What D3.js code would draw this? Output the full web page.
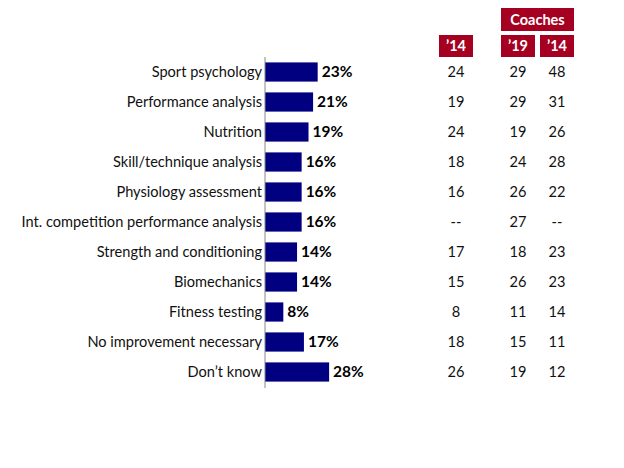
<!DOCTYPE html>
<html><head><meta charset="utf-8">
<script src="https://cdn.jsdelivr.net/npm/d3@7"></script>
<style>body{margin:0;background:#fff}svg{display:block}text{font-family:Lato,"Open Sans",sans-serif}</style>
</head><body>
<svg id="c" width="624" height="468"></svg>
<script>
const categories = ["Sport psychology","Performance analysis","Nutrition","Skill/technique analysis","Physiology assessment","Int. competition performance analysis","Strength and conditioning","Biomechanics","Fitness testing","No improvement necessary","Don\u2019t know"];
const values = [23,21,19,16,16,16,14,14,8,17,28];
const col14 = ["24","19","24","18","16","--","17","15","8","18","26"];
const coaches19 = ["29","29","19","24","26","27","18","26","11","15","19"];
const coaches14 = ["48","31","26","28","22","--","23","23","14","11","12"];
const headers = ["\u201914","\u201919","\u201914"];
const groupHeader = "Coaches";

const svg = d3.select("#c");
const x = d3.scaleLinear().domain([0,100]).range([265,265+229]);
const y = d3.scaleBand().domain(categories).range([57,387]).paddingInner(0.36).paddingOuter(0.18);
const red = "#A50021";

svg.selectAll("rect.bar").data(values).join("rect").attr("class","bar")
  .attr("x",x(0)).attr("y",(d,i)=>y(categories[i])).attr("width",d=>x(d)-x(0))
  .attr("height",y.bandwidth()).attr("fill","#000080");

svg.append("line").attr("x1",x(0)).attr("x2",x(0)).attr("y1",57).attr("y2",388).attr("stroke","#888").attr("stroke-width",1);

const yc = c => y(c)+y.bandwidth()/2;
svg.selectAll("text.cat").data(categories).join("text").attr("class","cat")
  .attr("x",x(0)-3).attr("y",d=>yc(d)).attr("dy","0.35em").attr("text-anchor","end")
  .attr("font-size",14.6).attr("fill","#111").text(d=>d);

svg.selectAll("text.val").data(values).join("text").attr("class","val")
  .attr("x",d=>x(d)+4).attr("y",(d,i)=>yc(categories[i])).attr("dy","0.35em")
  .attr("font-size",15.5).attr("font-weight","bold").attr("fill","#000").text(d=>d+"%");

const cols = [{cx:456,data:col14},{cx:518,data:coaches19},{cx:557,data:coaches14}];
cols.forEach((c,j)=>{
  svg.append("rect").attr("x",c.cx-17).attr("y",35).attr("width",34).attr("height",22).attr("fill",red);
  svg.append("text").attr("x",c.cx).attr("y",46).attr("dy","0.35em").attr("text-anchor","middle")
    .attr("font-size",14.5).attr("font-weight","bold").attr("fill","#fff").text(headers[j]);
  svg.selectAll(null).data(c.data).join("text")
    .attr("x",c.cx).attr("y",(d,i)=>yc(categories[i])).attr("dy","0.35em").attr("text-anchor","middle")
    .attr("font-size",14.6).attr("fill","#111").text(d=>d);
});
svg.append("rect").attr("x",501).attr("y",8).attr("width",73).attr("height",23).attr("fill",red);
svg.append("text").attr("x",537.5).attr("y",19.5).attr("dy","0.35em").attr("text-anchor","middle")
  .attr("font-size",14.5).attr("font-weight","bold").attr("fill","#fff").text(groupHeader);
</script>
</body></html>
